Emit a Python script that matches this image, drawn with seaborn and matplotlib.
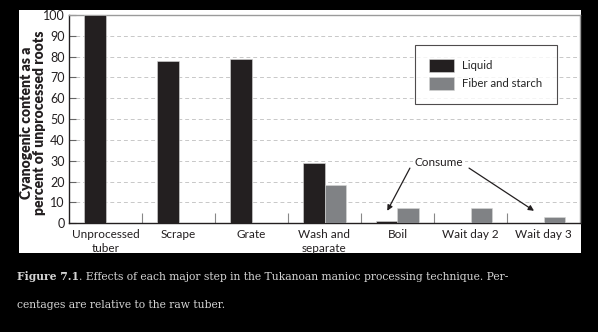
import matplotlib
matplotlib.use("Agg")
import matplotlib.pyplot as plt
import seaborn as sns
import pandas as pd
from matplotlib.patches import Rectangle
from matplotlib.ticker import MultipleLocator, FixedLocator

steps = ["Unprocessed\ntuber", "Scrape", "Grate", "Wash and\nseparate",
         "Boil", "Wait day 2", "Wait day 3"]
liquid = [100, 78, 79, 29.1, 1.0, 0, 0]
fiber = [0, 0, 0, 18.4, 7.5, 7.3, 3.2]
series = ["Liquid", "Fiber and starch"]
colors = ["#231f20", "#808285"]

df = pd.DataFrame({
    "step": steps * 2,
    "value": liquid + fiber,
    "series": [series[0]] * len(steps) + [series[1]] * len(steps),
})

sns.set_theme(style="white")
plt.rcParams["font.family"] = ["Lato", "DejaVu Sans"]

fig = plt.figure(figsize=(5.98, 3.32), dpi=100)
fig.patch.set_facecolor("black")
W, H = 598, 332
panel = Rectangle((19 / W, 1 - 253 / H), (581 - 19) / W, (253 - 10) / H,
                  transform=fig.transFigure, facecolor="white",
                  edgecolor="none", zorder=-10)
fig.patches.append(panel)

ax = fig.add_axes([69 / W, 1 - 223.3 / H, (580 - 69) / W, (223.3 - 15) / H])
ax.set_zorder(1)
ax.set_facecolor("white")

sns.barplot(data=df, x="step", y="value", hue="series", palette=colors,
            width=0.58, gap=0, ax=ax, edgecolor="#d8d8d8", linewidth=0.4,
            saturation=1, zorder=3)

ax.set_xlim(-0.5, 6.5)
ax.set_ylim(0, 100)
ax.yaxis.set_major_locator(MultipleLocator(10))
ax.grid(axis="y", color="#c8c8c8", linestyle=(0, (4, 3)), linewidth=0.7, zorder=0)
ax.set_axisbelow(True)

ax.tick_params(axis="y", direction="in", length=5, color="#666666", width=0.8,
               labelsize=9, pad=3, labelcolor="#231f20", left=True)
ax.tick_params(axis="x", which="major", length=0, labelsize=8.5, pad=4,
               labelcolor="#231f20")
ax.xaxis.set_minor_locator(FixedLocator([0.5, 1.5, 2.5, 3.5, 4.5, 5.5]))
ax.tick_params(axis="x", which="minor", direction="in", length=7, width=0.8,
               color="#888888", bottom=True)
for lbl in ax.get_xticklabels():
    lbl.set_linespacing(1.3)

for s in ["left", "bottom"]:
    ax.spines[s].set_color("#231f20")
    ax.spines[s].set_linewidth(1.0)
for s in ["top", "right"]:
    ax.spines[s].set_color("#9a9a9a")
    ax.spines[s].set_linewidth(1.0)

ax.set_xlabel("")
ax.set_ylabel("Cyanogenic content as a\npercent of unprocessed roots",
              fontsize=10, fontweight="heavy", color="#231f20",
              linespacing=1.0)
ax.yaxis.set_label_coords((46 - 69) / 511, (223.3 - 123) / 208.3)

leg = ax.legend(loc="upper left", bbox_to_anchor=((415 - 69) / 511, 1 - (45 - 15) / 208.3),
                frameon=True, fancybox=False, fontsize=8.2, handlelength=2.2,
                handleheight=1.3, borderpad=1.25, labelspacing=0.5,
                handletextpad=0.7, borderaxespad=0)
leg.get_frame().set_edgecolor("#231f20")
leg.get_frame().set_linewidth(0.8)

arrow = dict(arrowstyle="-|>", color="#231f20", lw=0.9, mutation_scale=8,
             shrinkA=0, shrinkB=0)
ax.annotate("", xy=(3.86, 6.0), xytext=(4.17, 26.5), arrowprops=arrow)
ax.annotate("", xy=(5.87, 6.0), xytext=(4.98, 26.5), arrowprops=arrow)
ax.text(4.57, 29, "Consume", ha="center", va="center", fontsize=8.5,
        color="#231f20", zorder=5, bbox=dict(facecolor="white", edgecolor="none", pad=1))

cap_color = "#d4d4d4"
capfont = ["DejaVu Serif"]
cs = 7.75
t1 = fig.text(17 / W, 1 - 277 / H, "Figure 7.1", fontsize=cs, fontweight="bold",
              color=cap_color, family=capfont, va="center", ha="left")
fig.canvas.draw()
bb = t1.get_window_extent()
fig.text(bb.x1 / W, 1 - 277 / H,
         ". Effects of each major step in the Tukanoan manioc processing technique. Per-",
         fontsize=cs, color=cap_color, family=capfont, va="center", ha="left")
fig.text(17 / W, 1 - 305 / H, "centages are relative to the raw tuber.",
         fontsize=cs, color=cap_color, family=capfont, va="center", ha="left")

fig.savefig("out.png", dpi=100, facecolor=fig.get_facecolor())
